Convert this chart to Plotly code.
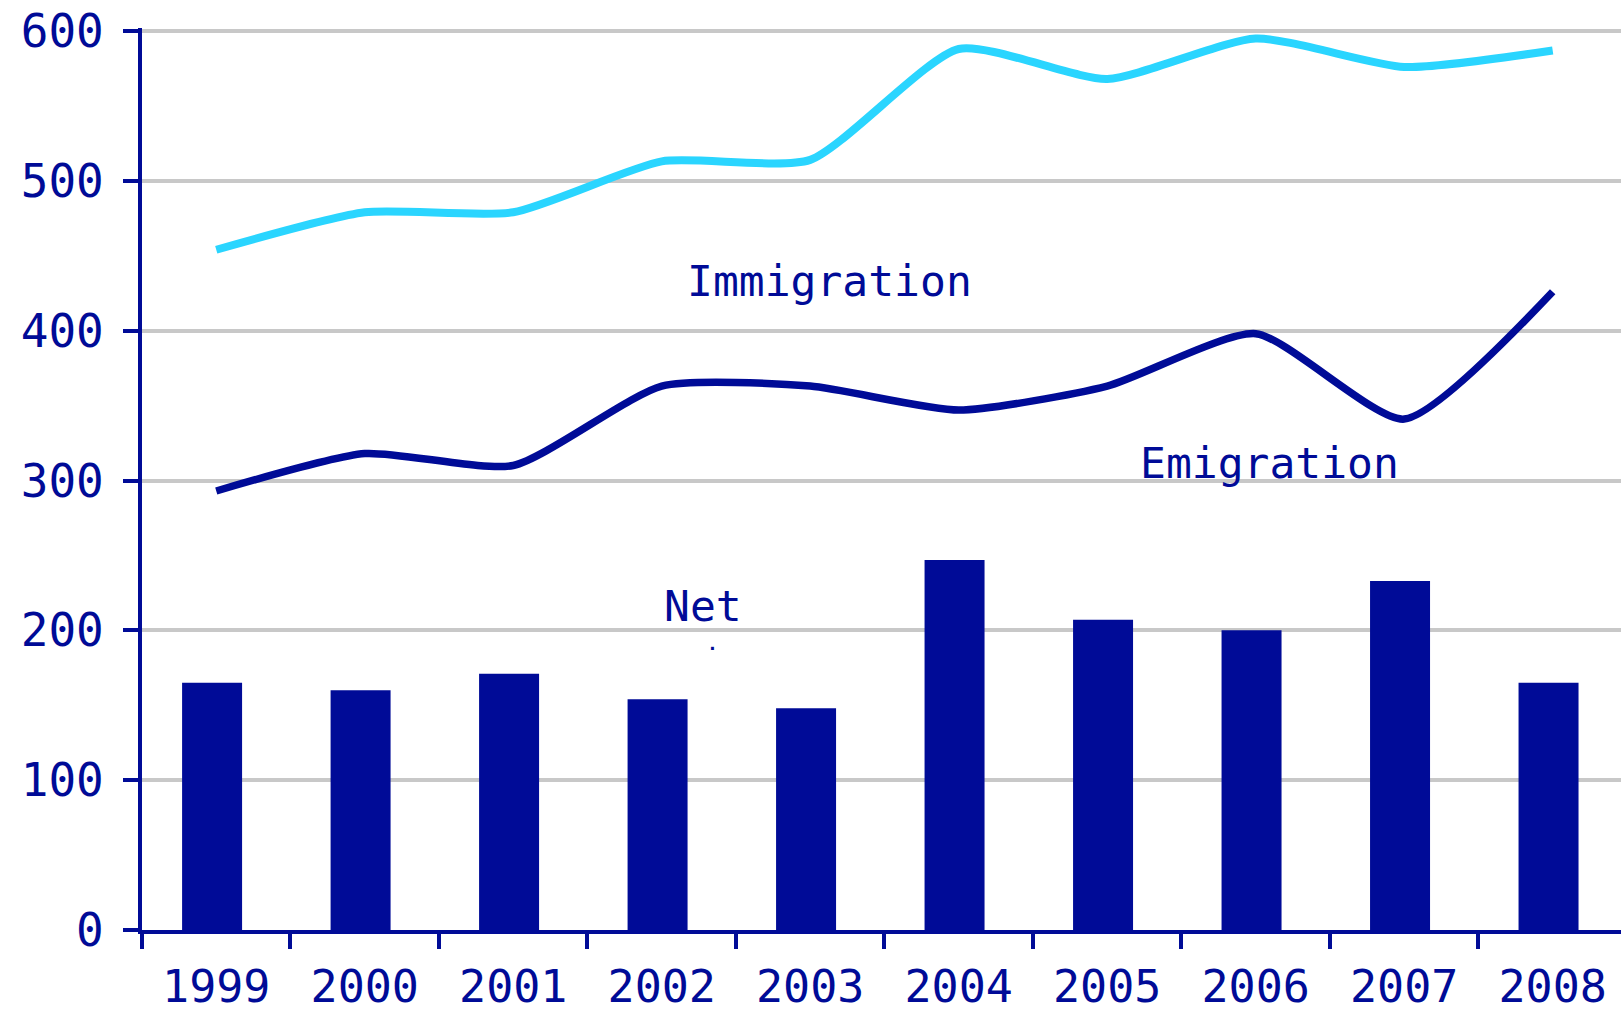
import plotly.graph_objects as go

years = ["1999", "2000", "2001", "2002", "2003", "2004", "2005", "2006", "2007", "2008"]
immigration = [454, 479, 479, 513, 514, 588, 568, 595, 576, 587]
emigration = [293, 318, 310, 363, 363, 347, 363, 398, 341, 426]
net = [165, 160, 171, 154, 148, 247, 207, 200, 233, 165]

NAVY = "#000B97"
CYAN = "#2AD5FF"
GRID = "#C8C8C8"
FONT = "DejaVu Sans Mono"

fig = go.Figure()
fig.add_trace(go.Bar(x=years, y=net, name="Net", marker=dict(color=NAVY, line=dict(width=0)),
                     width=0.404, offset=-0.23))
fig.add_trace(go.Scatter(x=years, y=immigration, name="Immigration", mode="lines",
                         line=dict(color=CYAN, width=8, shape="spline", smoothing=0.6)))
fig.add_trace(go.Scatter(x=years, y=emigration, name="Emigration", mode="lines",
                         line=dict(color=NAVY, width=7.5, shape="spline", smoothing=0.6)))

ann_font = dict(family=FONT, size=43, color=NAVY)
fig.add_annotation(x=4.133, y=433, xref="x", yref="y", text="Immigration", showarrow=False, font=ann_font)
fig.add_annotation(x=7.09, y=312, xref="x", yref="y", text="Emigration", showarrow=False, font=ann_font)
fig.add_annotation(x=3.278, y=216, xref="x", yref="y", text="Net", showarrow=False, font=ann_font)
fig.add_annotation(x=3.345, y=191, xref="x", yref="y", text="<b>.</b>", showarrow=False,
                   font=dict(family=FONT, size=18, color=NAVY))

fig.update_layout(
    width=1621, height=1015,
    margin=dict(l=142, r=0, t=28, b=85),
    paper_bgcolor="white", plot_bgcolor="white",
    showlegend=False,
    bargap=0.6,
    font=dict(family=FONT, color=NAVY),
)
fig.update_xaxes(
    type="category", range=[-0.5, 9.46],
    showline=True, linecolor=NAVY, linewidth=4,
    ticks="outside", tickson="boundaries", ticklen=15, tickwidth=4, tickcolor=NAVY,
    tickfont=dict(family=FONT, size=45, color=NAVY),
    ticklabelstandoff=14,
    showgrid=False, zeroline=False,
    automargin=False,
)
fig.update_yaxes(
    range=[0, 602], tickvals=[0, 100, 200, 300, 400, 500, 600],
    showline=True, linecolor=NAVY, linewidth=4,
    ticks="outside", ticklen=15, tickwidth=4, tickcolor=NAVY,
    tickfont=dict(family=FONT, size=46, color=NAVY),
    ticklabelstandoff=10,
    showgrid=True, gridcolor=GRID, gridwidth=4,
    zeroline=False,
    automargin=False,
)

fig.write_html("out.html", config={"displayModeBar": False},
               post_script="document.body.style.margin='0';document.body.style.overflow='hidden';")
